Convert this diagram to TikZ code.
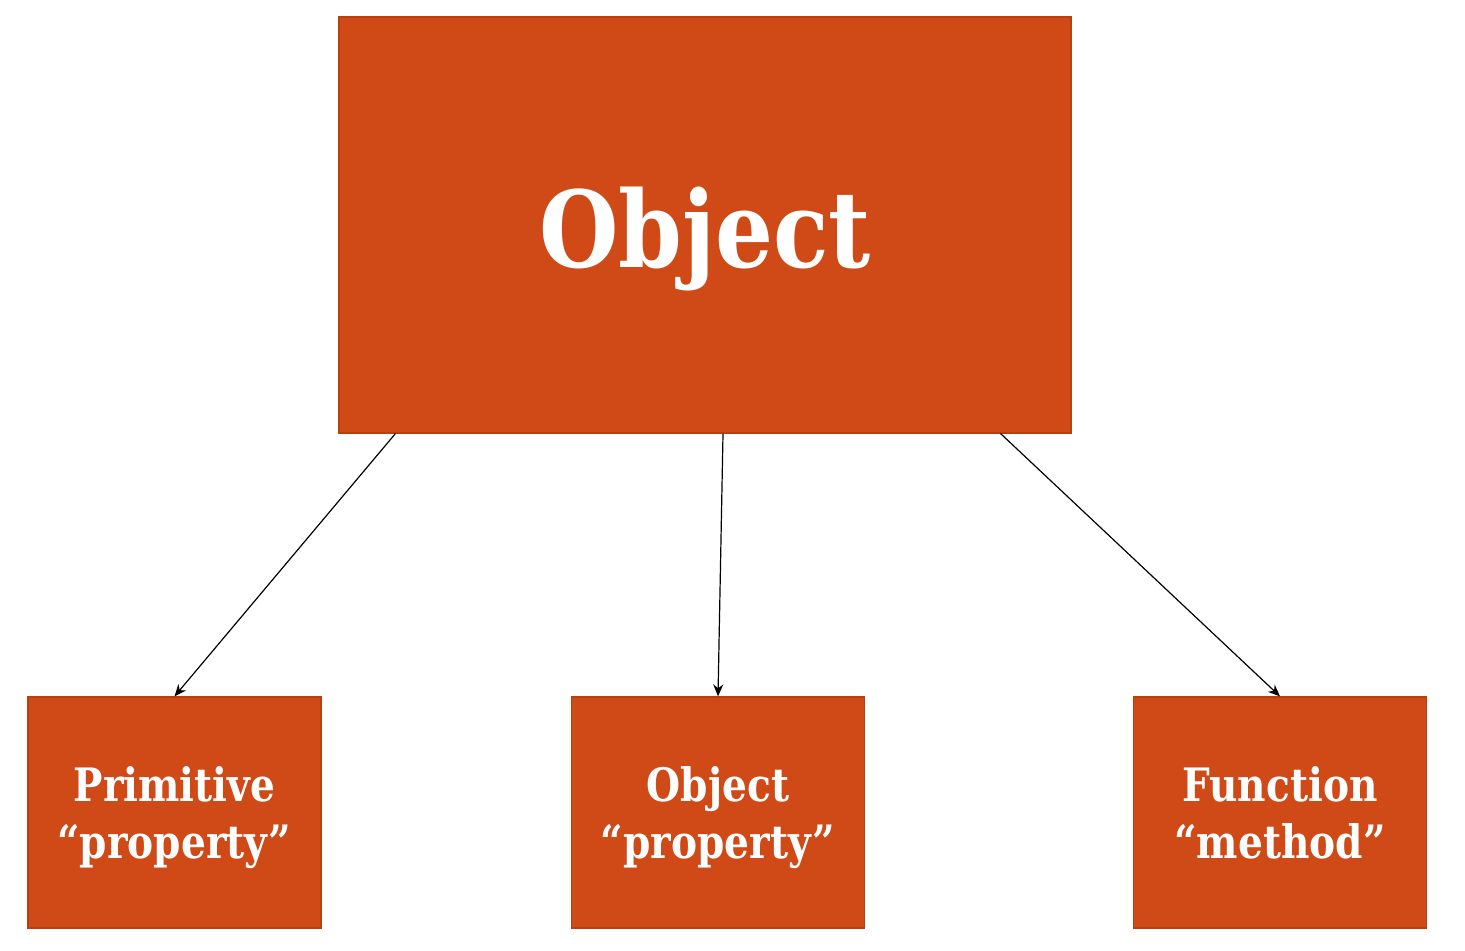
\documentclass[tikz,border=0pt]{standalone}
\usepackage{fontspec}
\setmainfont{DejaVu Serif}
\newfontfamily\slabbig[FakeStretch=0.86]{DejaVu Serif}
\newfontfamily\slabsmall[FakeStretch=0.85]{DejaVu Serif}
\usetikzlibrary{arrows.meta,calc}
\definecolor{boxfill}{HTML}{D04A18}
\definecolor{boxline}{HTML}{B8400F}
\tikzset{
  bigbox/.style={draw=boxline, line width=0.6pt, fill=boxfill, text=white, inner sep=0pt,
    minimum width=366pt, minimum height=208pt, font=\slabbig\bfseries\fontsize{53}{60}\selectfont},
  smallbox/.style={draw=boxline, line width=0.6pt, fill=boxfill, text=white, inner sep=0pt,
    minimum width=146.5pt, minimum height=115.5pt, align=center,
    font=\slabsmall\bfseries\fontsize{23}{28.5}\selectfont},
  link/.style={draw=black, line width=0.6pt, -{Stealth[length=6pt,width=5pt]}}
}
\newcommand{\twolines}[2]{\raisebox{5.75pt}[0pt][0pt]{\begin{tabular}[t]{@{}c@{}}#1\\#2\end{tabular}}}
\begin{document}
\begin{tikzpicture}[x=0.5pt,y=-0.5pt]
\useasboundingbox (0,0) rectangle (1465,951);
\node[bigbox] (obj) at (705,225) {\raisebox{-21.5pt}[0pt][0pt]{Object}};
\node[smallbox] (prim) at (174.5,812.5) {\twolines{Primitive}{“property”}};
\node[smallbox] (oprop) at (718,812.5) {\twolines{Object}{“property”}};
\node[smallbox] (func) at (1280,812.5) {\twolines{Function}{“method”}};
\coordinate (s1) at ($(obj.south west)+(57,0)$);
\coordinate (s2) at ($(obj.south)+(18,0)$);
\coordinate (s3) at ($(obj.south east)+(-71,0)$);
\draw[link] (s1) -- (prim.north);
\draw[link] (s2) -- (oprop.north);
\draw[link] (s3) -- (func.north);
\end{tikzpicture}
\end{document}
